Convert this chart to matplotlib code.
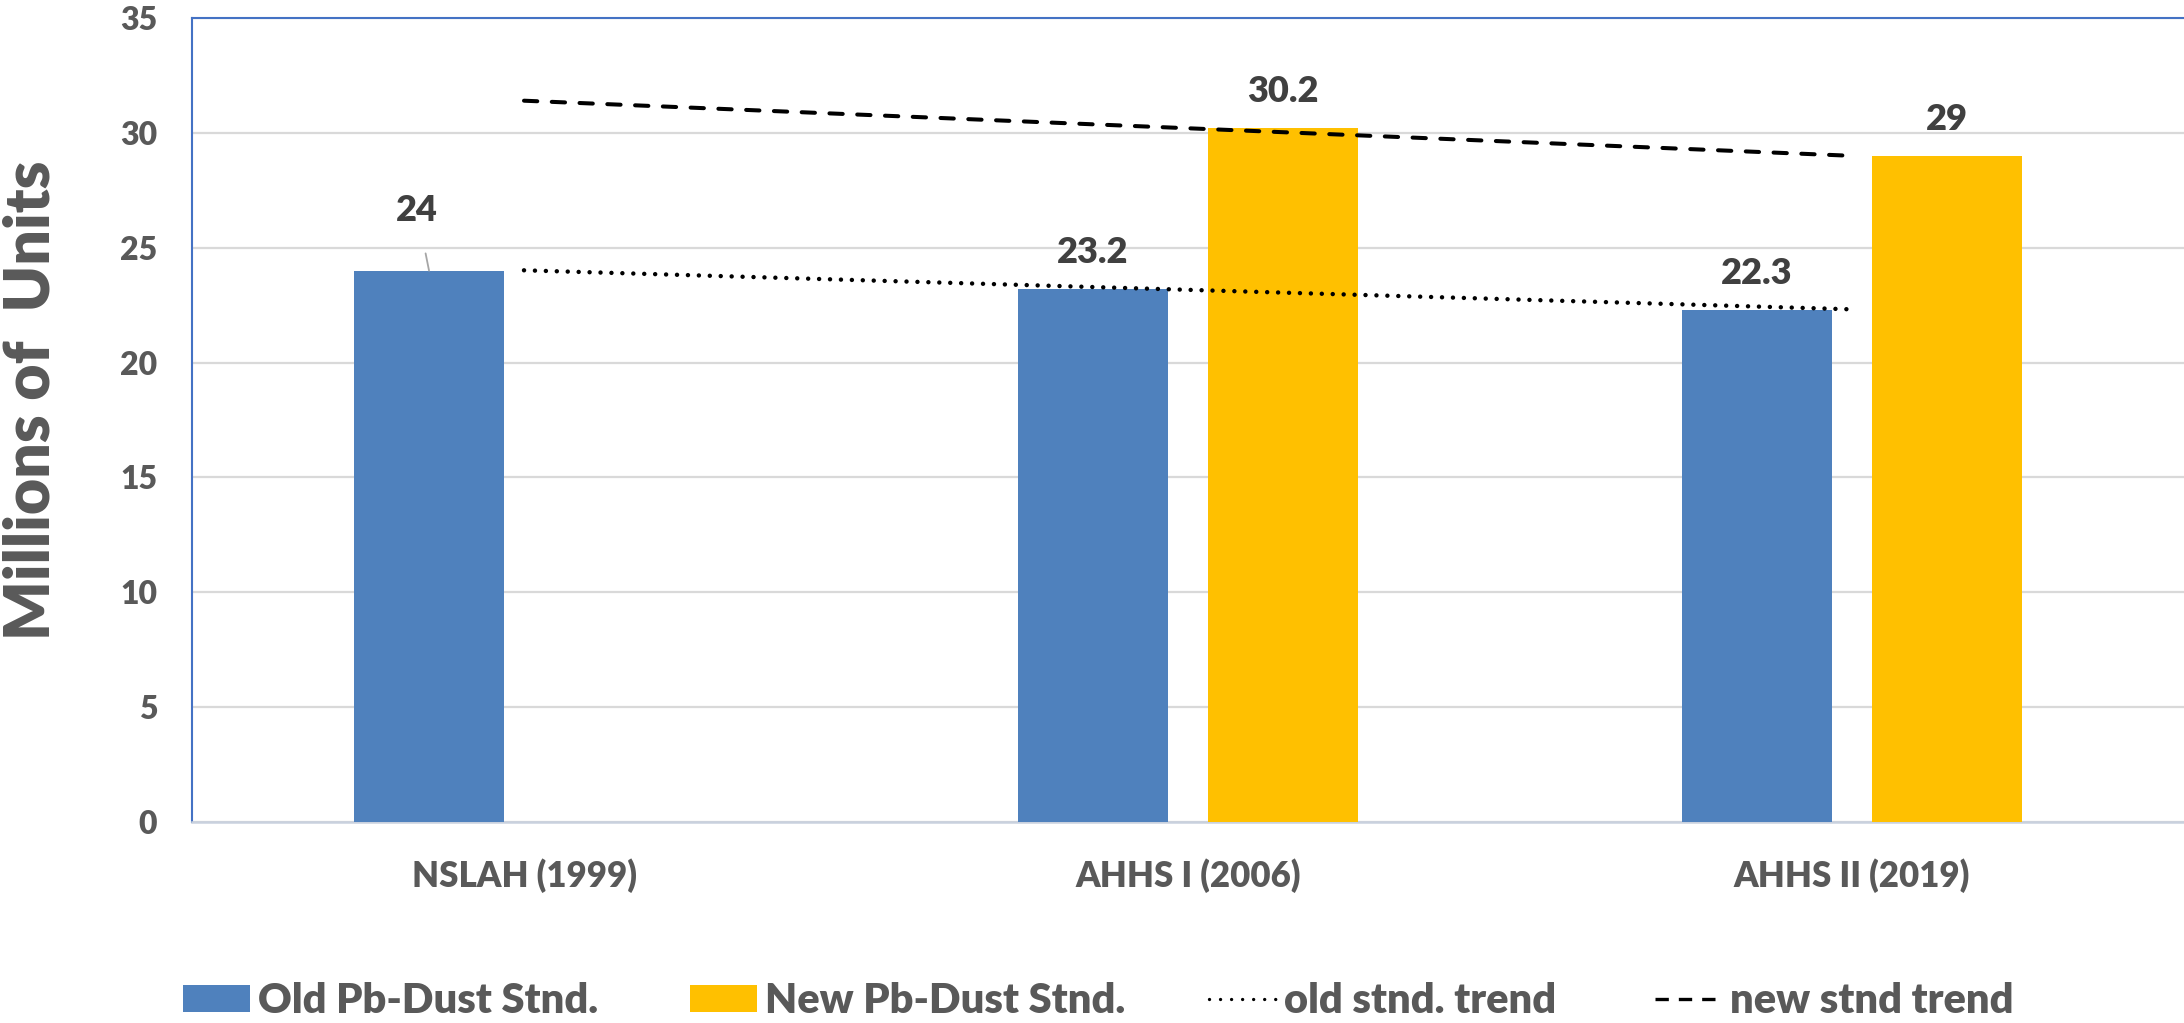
import numpy as np
import matplotlib
matplotlib.use("Agg")
import matplotlib.pyplot as plt
from matplotlib.patches import Patch
from matplotlib.lines import Line2D

plt.rcParams['font.family'] = ['Lato', 'DejaVu Sans']
plt.rcParams['font.weight'] = 'heavy'
WT = 'heavy'

# data
categories = ["NSLAH (1999)", "AHHS I (2006)", "AHHS II (2019)"]
old_std = [24, 23.2, 22.3]
new_std = [np.nan, 30.2, 29]
yticks = [0, 5, 10, 15, 20, 25, 30, 35]

BLUE = "#4F81BD"
GOLD = "#FFC000"
GREY_TXT = "#595959"
LABEL_TXT = "#404040"

W, H = 2184, 1023
fig = plt.figure(figsize=(W / 100, H / 100), dpi=100)
ax = fig.add_axes([192 / W, 1 - 822 / H, 1 - 192 / W, (822 - 18) / H])

x = np.arange(len(categories))
bw = 0.226
off = 0.143

old = np.array(old_std, dtype=float)
new = np.array(new_std, dtype=float)
ok = ~np.isnan(new)

ax.bar(x - off, old, width=bw, color=BLUE, zorder=3)
ax.bar(x[ok] + off, new[ok], width=bw, color=GOLD, zorder=3)

# linear trendlines (excel style, over the category positions)
p_old = np.polyfit(x, old, 1)
p_new = np.polyfit(x[ok], new[ok], 1)
ax.plot(x, np.polyval(p_old, x), color="black", lw=3.2, linestyle=(0, (0.01, 2.45)),
        dash_capstyle="round", zorder=4)
ax.plot(x, np.polyval(p_new, x), color="black", lw=2.9, linestyle=(0, (3.3, 3.6)),
        dash_capstyle="round", zorder=4)

# data labels
for i, v in enumerate(old):
    if i == 0:
        ax.annotate(f"{v:g}", xy=(x[i] - off, v), xytext=(x[i] - off - 0.018, v + 2.6),
                    ha="center", va="center", fontsize=26, color=LABEL_TXT, fontweight=WT,
                    arrowprops=dict(arrowstyle="-", color="#A6A6A6", lw=1.3,
                                    shrinkA=17, shrinkB=0))
    else:
        ax.text(x[i] - off, v + 1.58, f"{v:g}", ha="center", va="center",
                fontsize=26, color=LABEL_TXT, fontweight=WT)
for i in np.where(ok)[0]:
    ax.text(x[i] + off, new[i] + 1.58, f"{new[i]:g}", ha="center", va="center",
            fontsize=26, color=LABEL_TXT, fontweight=WT)

ax.set_xlim(-0.5, 2.5)
ax.set_ylim(0, 35)
ax.set_yticks(yticks)
ax.set_xticks(x)
ax.set_xticklabels(categories)
ax.tick_params(axis="both", length=0, colors=GREY_TXT)
ax.tick_params(axis="y", labelsize=23, pad=25)
ax.tick_params(axis="x", labelsize=25, pad=26)
for lab in ax.get_xticklabels() + ax.get_yticklabels():
    lab.set_fontweight(WT)

ax.grid(axis="y", color="#D9D9D9", lw=1.6, zorder=0)
ax.set_axisbelow(True)
ax.spines["right"].set_visible(False)
ax.spines["top"].set_color("#4472C4")
ax.spines["left"].set_color("#4472C4")
ax.spines["top"].set_linewidth(1.5)
ax.spines["left"].set_linewidth(1.5)
ax.spines["bottom"].set_color("#C9D1DE")
ax.spines["bottom"].set_linewidth(1.8)

fig.text(31 / W, 1 - 400 / H, "Millions of  Units", rotation=90, ha="center", va="center",
         fontsize=45, color=GREY_TXT, fontweight=WT)

# legend, one entry at a time so each sits where it does in the original
handles = [
    (Patch(facecolor=BLUE), "Old Pb-Dust Stnd.", 183),
    (Patch(facecolor=GOLD), "New Pb-Dust Stnd.", 690),
    (Line2D([], [], color="black", lw=2.4, linestyle=(0, (0.01, 3.3)), dash_capstyle="round"),
     "old stnd. trend", 1209),
    (Line2D([], [], color="black", lw=2.4, linestyle=(0, (4.0, 3.0))), "new stnd trend", 1655),
]
for h, lab, px in handles:
    fig.legend([h], [lab], loc="center left", bbox_to_anchor=(px / W, 1 - 1001 / H),
               frameon=False, borderpad=0, borderaxespad=0, handlelength=1.6,
               handleheight=0.62, handletextpad=0.2,
               prop={"size": 30, "weight": WT}, labelcolor=GREY_TXT)

fig.savefig("out.png", dpi=100)
